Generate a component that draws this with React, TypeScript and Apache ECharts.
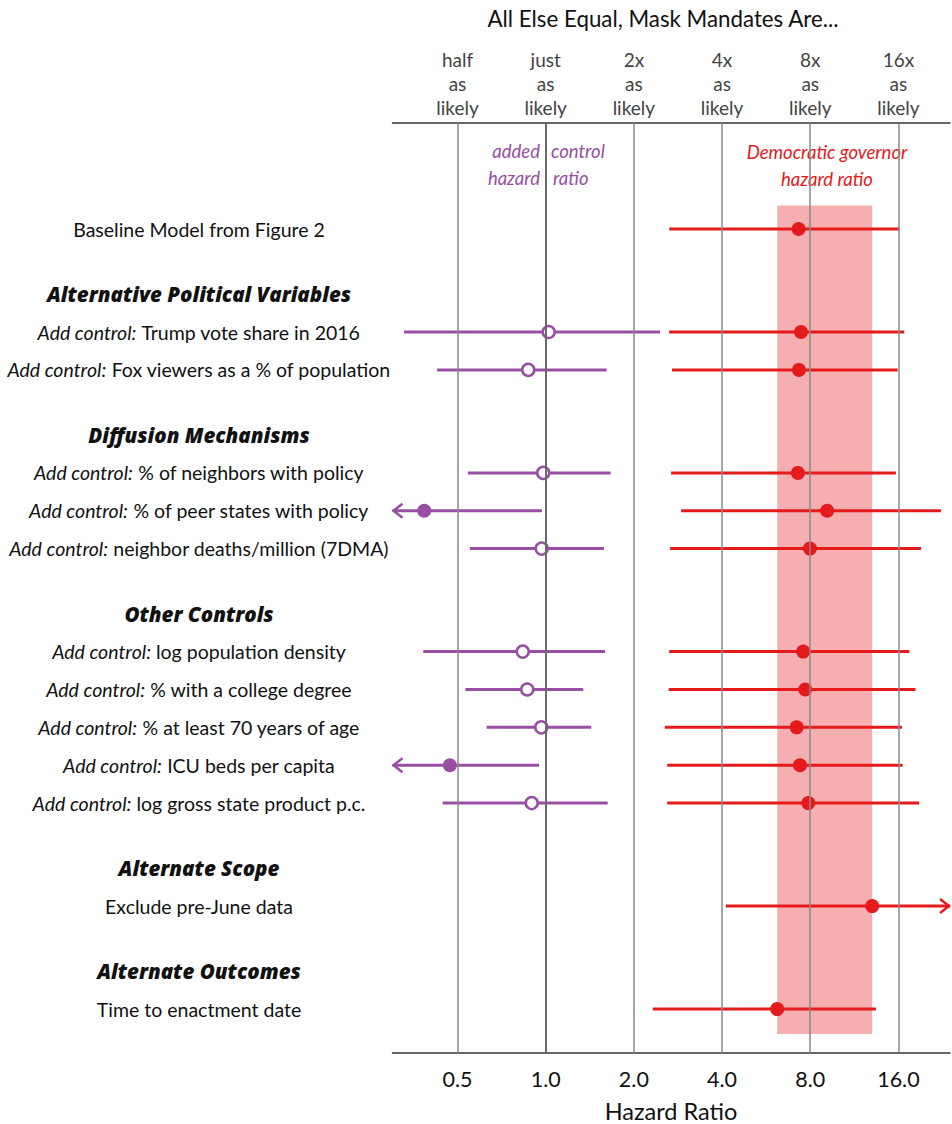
import React, { useEffect, useRef } from "react";
import * as echarts from "echarts";

// ---------- data ----------
const modelLabels = [
  "Baseline Model from Figure 2",
  "Trump vote share in 2016",
  "Fox viewers as a % of population",
  "% of neighbors with policy",
  "% of peer states with policy",
  "neighbor deaths/million (7DMA)",
  "log population density",
  "% with a college degree",
  "% at least 70 years of age",
  "ICU beds per capita",
  "log gross state product p.c.",
  "Exclude pre-June data",
  "Time to enactment date",
];
const addControl = [false, true, true, true, true, true, true, true, true, true, true, false, false];
const sectionHeaders = [
  "Alternative Political Variables",
  "Diffusion Mechanisms",
  "Other Controls",
  "Alternate Scope",
  "Alternate Outcomes",
];
const sectionStarts = [1, 3, 6, 11, 12];

// Democratic governor hazard ratio (null bound = beyond axis)
const demEstimate = [7.3, 7.44, 7.32, 7.26, 9.14, 7.98, 7.57, 7.69, 7.19, 7.38, 7.88, 13.02, 6.17];
const demLower = [2.64, 2.64, 2.7, 2.68, 2.9, 2.66, 2.64, 2.63, 2.55, 2.6, 2.6, 4.12, 2.32];
const demUpper = [16.1, 16.75, 15.9, 15.69, 22.35, 19.1, 17.42, 18.3, 16.45, 16.54, 18.84, null, 13.41];

// added control hazard ratio (null estimate = no control; null bound = beyond axis)
const ctrlEstimate = [null, 1.024, 0.872, 0.981, 0.385, 0.969, 0.835, 0.865, 0.966, 0.471, 0.896, null, null];
const ctrlLower = [null, 0.328, 0.426, 0.542, null, 0.551, 0.382, 0.532, 0.629, null, 0.445, null, null];
const ctrlUpper = [null, 2.455, 1.615, 1.667, 0.971, 1.581, 1.594, 1.344, 1.431, 0.949, 1.628, null, null];

const tickValues = [0.5, 1, 2, 4, 8, 16];
const bottomTickLabels = ["0.5", "1.0", "2.0", "4.0", "8.0", "16.0"];
const topTickLabels = [
  "half\nas\nlikely",
  "just\nas\nlikely",
  "2x\nas\nlikely",
  "4x\nas\nlikely",
  "8x\nas\nlikely",
  "16x\nas\nlikely",
];

// ---------- layout / style ----------
const AXIS_MIN = 0.3;
const AXIS_MAX = 24;
const HEADER_GAP = 1.72;
const RED = "#e41a1c";
const PURPLE = "#984ea3";
const FONT = "Lato, 'Open Sans', sans-serif";
const HEAD_FONT = "'Open Sans', Lato, sans-serif";

const rowPos = modelLabels.map(
  (_, i) => i + HEADER_GAP * sectionStarts.filter((s) => s <= i).length
);
const headerPos = sectionStarts.map((s) => rowPos[s] - 1);

const nearestTick = (v: number) => {
  let best = 0;
  let bd = Infinity;
  tickValues.forEach((t, i) => {
    const d = Math.abs(Math.log2(v) - Math.log2(t));
    if (d < bd) {
      bd = d;
      best = i;
    }
  });
  return best;
};

export default function App() {
  const ref = useRef<HTMLDivElement>(null);
  useEffect(() => {
    document.body.style.margin = "0";
    const chart = echarts.init(ref.current!, null, { renderer: "svg" });

    const labelMap = new Map<string, string>();
    modelLabels.forEach((l, i) => {
      labelMap.set(
        rowPos[i].toFixed(3),
        addControl[i] ? `{i|Add control:}{n| ${l}}` : `{n|${l}}`
      );
    });
    sectionHeaders.forEach((h, i) => labelMap.set(headerPos[i].toFixed(3), `{h|${h}}`));

    const demCI = modelLabels.map((_, i) => [
      demLower[i] ?? AXIS_MIN,
      demUpper[i] ?? AXIS_MAX,
      rowPos[i],
      demLower[i] == null ? 1 : 0,
      demUpper[i] == null ? 1 : 0,
    ]);
    const ctrlIdx = modelLabels.map((_, i) => i).filter((i) => ctrlEstimate[i] != null);
    const ctrlCI = ctrlIdx.map((i) => [
      ctrlLower[i] ?? AXIS_MIN,
      ctrlUpper[i] ?? AXIS_MAX,
      rowPos[i],
      ctrlLower[i] == null ? 1 : 0,
      ctrlUpper[i] == null ? 1 : 0,
    ]);

    const ciRender = (color: string) => (params: any, api: any) => {
      const lo = api.value(0);
      const hi = api.value(1);
      const y = api.value(2);
      const p1 = api.coord([lo, y]);
      const p2 = api.coord([hi, y]);
      const children: any[] = [
        {
          type: "line",
          shape: { x1: p1[0], y1: p1[1], x2: p2[0], y2: p2[1] },
          style: { stroke: color, lineWidth: 3 },
        },
      ];
      if (api.value(3)) {
        children.push({
          type: "polyline",
          shape: { points: [[p1[0] + 10, p1[1] - 7], [p1[0] + 1, p1[1]], [p1[0] + 10, p1[1] + 7]] },
          style: { stroke: color, lineWidth: 2.5, fill: "none" },
        });
      }
      if (api.value(4)) {
        children.push({
          type: "polyline",
          shape: { points: [[p2[0] - 10, p2[1] - 7], [p2[0] - 1, p2[1]], [p2[0] - 10, p2[1] + 7]] },
          style: { stroke: color, lineWidth: 2.5, fill: "none" },
        });
      }
      return { type: "group", children };
    };

    const bandMin = Math.min(...demEstimate);
    const bandMax = Math.max(...demEstimate);

    const logAxisBase = {
      type: "log",
      logBase: 2,
      min: AXIS_MIN,
      max: AXIS_MAX,
      splitLine: { show: false },
      axisTick: { show: false },
    };

    const annot = (text: string, x: number, y: number, fill: string, align: string) => ({
      type: "text",
      x,
      y,
      style: { text, fontSize: 18.5, fontStyle: "italic", fontFamily: FONT, fill, align, verticalAlign: "middle" },
    });

    chart.setOption({
      animation: false,
      textStyle: { fontFamily: FONT },
      grid: { left: 392.5, right: 2, top: 123, bottom: 71, containLabel: false },
      xAxis: [
        {
          ...logAxisBase,
          position: "bottom",
          axisLine: { show: true, onZero: false, lineStyle: { color: "#333", width: 1.5 } },
          axisLabel: {
            customValues: tickValues,
            formatter: (v: number) => bottomTickLabels[nearestTick(v)],
            color: "#111",
            fontSize: 21.5,
            margin: 15,
            fontFamily: FONT,
          },
        },
        {
          ...logAxisBase,
          position: "top",
          axisLine: { show: true, onZero: false, lineStyle: { color: "#333", width: 1.5 } },
          axisLabel: {
            customValues: tickValues,
            formatter: (v: number) => topTickLabels[nearestTick(v)],
            color: "#444",
            fontSize: 19,
            lineHeight: 24,
            margin: 4,
            fontFamily: FONT,
          },
        },
      ],
      yAxis: {
        type: "value",
        inverse: true,
        min: rowPos[0] - 2.8,
        max: rowPos[rowPos.length - 1] + 1.16,
        axisLine: { show: false },
        axisTick: { show: false },
        splitLine: { show: false },
        axisLabel: {
          customValues: [...rowPos, ...headerPos],
          margin: 193.5,
          align: "center",
          formatter: (v: number) => labelMap.get(Number(v).toFixed(3)) ?? "",
          rich: {
            n: { fontSize: 19.5, color: "#111", fontFamily: FONT },
            i: { fontSize: 19.5, color: "#111", fontStyle: "italic", fontFamily: FONT },
            h: { fontSize: 20.5, color: "#111", fontStyle: "italic", fontWeight: 800, fontFamily: HEAD_FONT },
          },
        },
      },
      series: [
        {
          type: "custom",
          name: "grid",
          data: [],
          z: 1,
          renderItem: () => null,
          markArea: {
            silent: true,
            itemStyle: { color: "rgba(228,26,28,0.35)" },
            data: [
              [
                { xAxis: bandMin, yAxis: rowPos[0] - 0.62 },
                { xAxis: bandMax, yAxis: rowPos[rowPos.length - 1] + 0.66 },
              ],
            ],
          },
          markLine: {
            silent: true,
            symbol: "none",
            label: { show: false },
            lineStyle: { color: "#8a8a8a", width: 1.5, type: "solid" },
            data: tickValues.map((t) =>
              t === 1
                ? { xAxis: t, lineStyle: { color: "#6a6a6a", width: 2, type: "solid" } }
                : { xAxis: t }
            ),
          },
        },
        {
          type: "custom",
          name: "demCI",
          data: demCI,
          z: 3,
          renderItem: ciRender(RED),
        },
        {
          type: "custom",
          name: "ctrlCI",
          data: ctrlCI,
          z: 3,
          renderItem: ciRender(PURPLE),
        },
        {
          type: "scatter",
          name: "Democratic governor",
          z: 4,
          symbolSize: 14,
          itemStyle: { color: RED, opacity: 1 },
          data: demEstimate.map((v, i) => [v, rowPos[i]]),
        },
        {
          type: "scatter",
          name: "added control",
          z: 4,
          symbolSize: 12,
          data: ctrlIdx.map((i) => {
            const sig = (ctrlUpper[i] != null && ctrlUpper[i]! < 1) || (ctrlLower[i] != null && ctrlLower[i]! > 1);
            return {
              value: [ctrlEstimate[i], rowPos[i]],
              symbolSize: sig ? 14 : 12,
              itemStyle: sig
                ? { color: PURPLE, opacity: 1 }
                : { color: "#fff", borderColor: PURPLE, borderWidth: 2.5, opacity: 1 },
            };
          }),
        },
      ],
      graphic: [
        {
          type: "text",
          x: 663,
          y: 18,
          style: { text: "All Else Equal, Mask Mandates Are...", fontSize: 22.3, fontFamily: FONT, fill: "#111", align: "center", verticalAlign: "middle" },
        },
        annot("added", 540, 151, PURPLE, "right"),
        annot("control", 551, 151, PURPLE, "left"),
        annot("hazard", 540, 178, PURPLE, "right"),
        annot("ratio", 553, 178, PURPLE, "left"),
        annot("Democratic governor", 827, 152, RED, "center"),
        annot("hazard ratio", 827, 179, RED, "center"),
        {
          type: "text",
          x: 671,
          y: 1111,
          style: { text: "Hazard Ratio", fontSize: 23.5, fontFamily: FONT, fill: "#111", align: "center", verticalAlign: "middle" },
        },
      ],
    });
    return () => chart.dispose();
  }, []);
  return (
    <div
      ref={ref}
      style={{ position: "absolute", left: 0, top: 0, width: 952, height: 1124 }}
    />
  );
}
